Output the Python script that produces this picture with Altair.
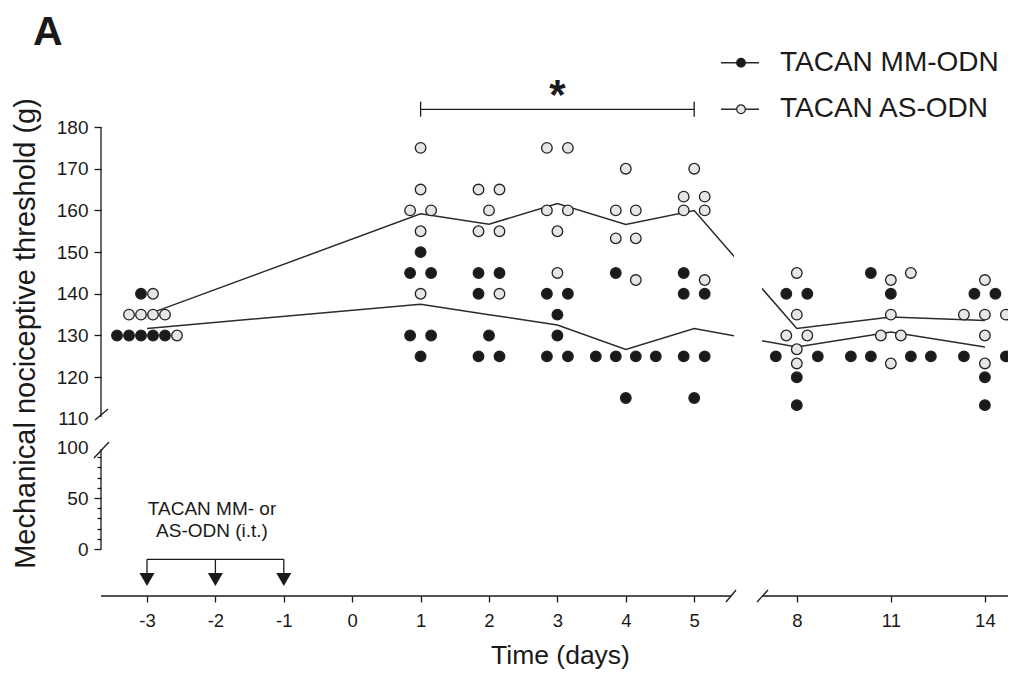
import math
import altair as alt
import pandas as pd

# ---------------- data ----------------
DAYS = [-3, 1, 2, 3, 4, 5, 8, 11, 14]
GROUPS = ["TACAN MM-ODN", "TACAN AS-ODN"]
MM_ODN = [
    [140, 130, 130, 130, 130, 130],
    [150, 145, 145, 130, 130, 125],
    [145, 145, 140, 130, 125, 125],
    [140, 140, 135, 130, 125, 125],
    [145, 125, 125, 125, 125, 115],
    [145, 140, 140, 125, 125, 115],
    [140, 140, 125, 125, 120, 113.3],
    [145, 140, 125, 125, 125, 125],
    [140, 140, 125, 125, 120, 113.3],
]
AS_ODN = [
    [140, 135, 135, 135, 135, 130],
    [175, 165, 160, 160, 155, 140],
    [165, 165, 160, 155, 155, 140],
    [175, 175, 160, 160, 155, 145],
    [170, 160, 160, 153.3, 153.3, 143.3],
    [170, 163.3, 163.3, 160, 160, 143.3],
    [145, 135, 130, 130, 126.7, 123.3],
    [145, 143.3, 135, 130, 130, 123.3],
    [143.3, 135, 135, 135, 130, 123.3],
]
X_TICK_DAYS = [-3, -2, -1, 0, 1, 2, 3, 4, 5, 8, 11, 14]
Y_TICKS_UPPER = [110, 120, 130, 140, 150, 160, 170, 180]
Y_TICKS_LOWER = [0, 10, 20, 30, 40, 50, 60, 70, 80, 90, 100]
INJECTION_DAYS = [-3, -2, -1]
SIG_DAYS = [1, 5]
ANNOT_LINES = ["TACAN MM- or", "AS-ODN (i.t.)"]

FONT = "Liberation Sans"
INK = "#1a1a1a"

# ---------------- broken-axis geometry ----------------
PX_DAY = 68.4      # px per day (first x segment)
PX_G = 4.17        # px per gram (upper y segment)


def day_pos(d):
    return d if d <= 5 else 6.5 + (d - 8) * 1.375 / 3


def px2x(p):
    return (p - 147) / PX_DAY - 3


def py2y(p):
    return 180 - (p - 127) / PX_G


LOW0 = py2y(549)
LOWK = (py2y(447) - LOW0) / 100


def low_pos(v):
    return LOW0 + v * LOWK


VIEW_L, VIEW_R, VIEW_T, VIEW_B = 101, 1008, 8, 596
xsc = alt.Scale(domain=[px2x(VIEW_L), px2x(VIEW_R)], nice=False, zero=False)
ysc = alt.Scale(domain=[py2y(VIEW_B), py2y(VIEW_T)], nice=False, zero=False)


# ---------------- beeswarm layout ----------------
def swarm_offsets(items):
    rows = {}
    for i, (v, g) in enumerate(items):
        rows.setdefault(v, []).append(i)
    maxrow = max(len(r) for r in rows.values())
    step = 21.0 if maxrow <= 3 else 60.0 / (maxrow - 1)
    keys = sorted(rows)
    clusters = []
    k = 0
    while k < len(keys):
        r = list(rows[keys[k]])
        if (len(r) == 1 and k + 1 < len(keys) and len(rows[keys[k + 1]]) == 1
                and keys[k + 1] - keys[k] < 2.5):
            r = r + rows[keys[k + 1]]
            k += 2
        else:
            k += 1
        r.sort(key=lambda i: (items[i][1], -items[i][0]))
        clusters.append(r)
    placed, off = [], {}
    for r in clusters:
        n = len(r)
        base = [(j - (n - 1) / 2) * step for j in range(n)]
        cands = [base]
        if n % 2 == 0:
            h = n // 2
            cands.append([-(h - j) * step for j in range(h)] + [(j + 1) * step for j in range(h)])
        for s in range(1, 14):
            for sg in (-1, 1):
                cands.append([b + sg * s * step / 2 for b in base])
        chosen = cands[-1]
        for c in cands:
            if all(math.hypot(c[j] - pdx, (items[r[j]][0] - pv) * PX_G) >= 13.5
                   for j in range(n) for (pdx, pv) in placed):
                chosen = c
                break
        for j in range(n):
            off[r[j]] = chosen[j]
            placed.append((chosen[j], items[r[j]][0]))
    return off


recs = []
for di, d in enumerate(DAYS):
    items = [(v, 0) for v in MM_ODN[di]] + [(v, 1) for v in AS_ODN[di]]
    off = swarm_offsets(items)
    for i, (v, g) in enumerate(items):
        recs.append({"day": d, "xd": day_pos(d), "xp": day_pos(d) + off[i] / PX_DAY,
                     "value": v, "group": GROUPS[g]})
df = pd.DataFrame(recs)

# ---------------- axes ----------------
x_label_expr = ("datum.value <= 5.01 ? '' + round(datum.value) : "
                "'' + round(8 + (datum.value - 6.5) * 3 / 1.375)")
lowv = f"round((datum.value - {LOW0:.6f}) / {LOWK:.6f})"
y_label_expr = (f"datum.value >= 109 ? '' + round(datum.value) : "
                f"({lowv} % 50 == 0 ? '' + {lowv} : '')")

xaxis = alt.Axis(values=[day_pos(d) for d in X_TICK_DAYS], labelExpr=x_label_expr,
                 domain=False, grid=False, tickSize=6, tickWidth=1.3, tickColor=INK,
                 labelFont=FONT, labelFontSize=18.5, labelColor=INK, labelPadding=9,
                 labelFlush=False, labelOverlap=False,
                 title="Time (days)", titleFont=FONT, titleFontSize=26.5,
                 titleFontWeight="normal", titleColor=INK, titleY=46,
                 titleBaseline="top", titleX=(560 - VIEW_L), titleAlign="center")

yaxis = alt.Axis(values=[low_pos(v) for v in Y_TICKS_LOWER] + Y_TICKS_UPPER,
                 labelExpr=y_label_expr, domain=False, grid=False,
                 tickSize={"condition": {"test": f"datum.value < 105 && {lowv} % 50 != 0",
                                         "value": 4}, "value": 7},
                 tickColor={"condition": {"test": f"datum.value == 110 || (datum.value < 105 && {lowv} == 100)",
                                          "value": "transparent"}, "value": INK},
                 tickWidth=1.3, labelFont=FONT, labelFontSize=19, labelColor=INK,
                 labelPadding=6, labelOverlap=False, labelFlush=False,
                 title="Mechanical nociceptive threshold (g)", titleFont=FONT,
                 titleFontSize=29, titleFontWeight="normal", titleColor=INK,
                 titleX=(25 - VIEW_L), titleY=(333 - VIEW_T), titleAngle=270,
                 titleAlign="center", titleBaseline="middle")


def X(field):
    return alt.X(field, type="quantitative", scale=xsc, axis=xaxis)


def X2(field):
    return alt.X2(field)


def Y(field):
    return alt.Y(field, type="quantitative", scale=ysc, axis=yaxis)


def Y2(field):
    return alt.Y2(field)


fill_scale = alt.Scale(domain=GROUPS, range=["#1a1a1a", "#e6e6e6"])

# mean lines
lines = alt.Chart(df).mark_line(color="#2b2b2b", strokeWidth=1.5).encode(
    x=X("xd"), y=alt.Y("mean(value)", type="quantitative", scale=ysc, axis=yaxis),
    detail="group:N")

# gap of the broken x axis across the lines
gap_df = pd.DataFrame({"x0": [px2x(734)], "x1": [px2x(762)], "y0": [112], "y1": [178]})
gap = alt.Chart(gap_df).mark_rect(color="white").encode(
    x=X("x0"), x2=X2("x1"), y=Y("y0"), y2=Y2("y1"))

points = alt.Chart(df).mark_circle(size=112, opacity=1, stroke="#222",
                                   strokeWidth=1.3).encode(
    x=X("xp"), y=Y("value"),
    fill=alt.Fill("group:N", scale=fill_scale, legend=None))

# axis lines with breaks
seg_df = pd.DataFrame({
    "x0": [px2x(VIEW_L), px2x(762), px2x(VIEW_L), px2x(VIEW_L)],
    "x1": [px2x(731), px2x(VIEW_R), px2x(VIEW_L), px2x(VIEW_L)],
    "y0": [py2y(VIEW_B), py2y(VIEW_B), 180, py2y(449)],
    "y1": [py2y(VIEW_B), py2y(VIEW_B), py2y(417), low_pos(0)],
})
slash_df = pd.DataFrame({
    "x0": [px2x(95), px2x(94), px2x(726), px2x(757)],
    "x1": [px2x(108), px2x(109), px2x(736), px2x(768)],
    "y0": [py2y(420), py2y(458), py2y(602), py2y(602)],
    "y1": [py2y(409), py2y(442), py2y(590), py2y(590)],
})
axis_lines = alt.Chart(seg_df).mark_rule(color=INK, strokeWidth=1.3).encode(
    x=X("x0"), x2=X2("x1"), y=Y("y0"), y2=Y2("y1"))
slashes = alt.Chart(slash_df).mark_rule(color=INK, strokeWidth=1.3).encode(
    x=X("x0"), x2=X2("x1"), y=Y("y0"), y2=Y2("y1"))

# injection arrows
inj = pd.DataFrame({"d": [day_pos(d) for d in INJECTION_DAYS]})
inj["ytop"] = py2y(559.3)
inj["ybot"] = py2y(573)
inj["ytri"] = py2y(579.5)
inj_h = pd.DataFrame({"x0": [day_pos(INJECTION_DAYS[0])], "x1": [day_pos(INJECTION_DAYS[-1])],
                      "y": [py2y(559.3)]})
inj_hline = alt.Chart(inj_h).mark_rule(color=INK, strokeWidth=1.3).encode(
    x=X("x0"), x2=X2("x1"), y=Y("y"))
inj_vlines = alt.Chart(inj).mark_rule(color=INK, strokeWidth=1.3).encode(
    x=X("d"), y=Y("ytop"), y2=Y2("ybot"))
inj_tri = alt.Chart(inj).mark_point(shape="triangle-down", filled=True, size=225,
                                    color=INK, opacity=1).encode(
    x=X("d"), y=Y("ytri"))
annot_df = pd.DataFrame({"t": ANNOT_LINES, "x": [px2x(212)] * 2,
                         "y": [py2y(509), py2y(531)]})
annot = alt.Chart(annot_df).mark_text(font=FONT, fontSize=19, color=INK,
                                      align="center", baseline="middle").encode(
    x=X("x"), y=Y("y"), text="t:N")

# significance bracket
sig_df = pd.DataFrame({"x0": [day_pos(SIG_DAYS[0])], "x1": [day_pos(SIG_DAYS[1])],
                       "y": [py2y(109.3)]})
sig_line = alt.Chart(sig_df).mark_rule(color=INK, strokeWidth=1.3).encode(
    x=X("x0"), x2=X2("x1"), y=Y("y"))
sig_ends = pd.DataFrame({"x": [day_pos(d) for d in SIG_DAYS],
                         "y0": [py2y(101.7)] * 2, "y1": [py2y(116.7)] * 2})
sig_end = alt.Chart(sig_ends).mark_rule(color=INK, strokeWidth=1.3).encode(
    x=X("x"), y=Y("y0"), y2=Y2("y1"))
star_df = pd.DataFrame({"t": ["*"], "x": [(day_pos(SIG_DAYS[0]) + day_pos(SIG_DAYS[1])) / 2],
                        "y": [py2y(109)]})
star = alt.Chart(star_df).mark_text(font=FONT, fontSize=42, fontWeight="bold", color=INK,
                                    align="center", baseline="alphabetic").encode(
    x=X("x"), y=Y("y"), text="t:N")

# panel letter
letter_df = pd.DataFrame({"t": ["A"], "x": [px2x(33)], "y": [py2y(45)]})
letter = alt.Chart(letter_df).mark_text(font=FONT, fontSize=41, fontWeight="bold", color=INK,
                                        align="left", baseline="alphabetic").encode(
    x=X("x"), y=Y("y"), text="t:N")

# custom legend
leg_df = pd.DataFrame({"group": GROUPS, "y": [py2y(62.7), py2y(109.3)],
                       "x0": [px2x(721)] * 2, "x1": [px2x(759)] * 2,
                       "xc": [px2x(741)] * 2, "xt": [px2x(780)] * 2})
leg_line = alt.Chart(leg_df).mark_rule(color="#2b2b2b", strokeWidth=1.5).encode(
    x=X("x0"), x2=X2("x1"), y=Y("y"))
leg_pt = alt.Chart(leg_df).mark_circle(size=75, opacity=1, stroke="#222",
                                       strokeWidth=1.2).encode(
    x=X("xc"), y=Y("y"), fill=alt.Fill("group:N", scale=fill_scale, legend=None))
leg_txt = alt.Chart(leg_df).mark_text(font=FONT, fontSize=28, color=INK, align="left",
                                      baseline="middle").encode(
    x=X("xt"), y=Y("y"), text="group:N")

chart = alt.layer(
    lines, gap, axis_lines, slashes, points,
    inj_hline, inj_vlines, inj_tri, annot,
    sig_line, sig_end, star, letter,
    leg_line, leg_pt, leg_txt,
).properties(
    width=VIEW_R - VIEW_L, height=VIEW_B - VIEW_T,
    padding={"left": VIEW_L - 8, "top": 0, "right": 0, "bottom": 671 - VIEW_B},
    autosize=alt.AutoSizeParams(type="none"),
    background="white",
).configure_view(stroke=None)

chart.save("out.html", embed_options={"renderer": "svg", "actions": False})
